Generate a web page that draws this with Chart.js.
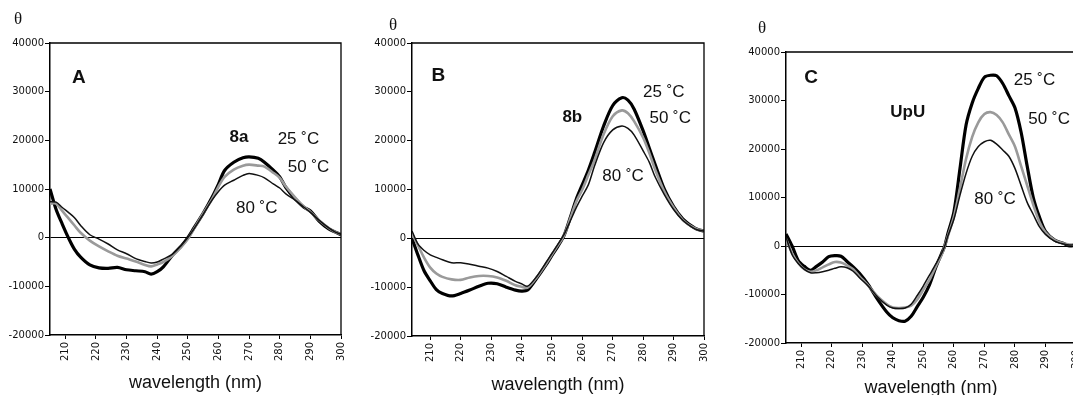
<!DOCTYPE html>
<html>
<head>
<meta charset="utf-8">
<script src="https://cdn.jsdelivr.net/npm/chart.js@4.4.0/dist/chart.umd.min.js"></script>
<style>
  html, body { margin: 0; padding: 0; background: #fff; overflow: hidden; }
  body { width: 1073px; height: 395px; position: relative; }
  canvas { position: absolute; top: 0; }
</style>
</head>
<body>
<canvas id="panelA" width="360" height="395" style="left:0px"></canvas>
<canvas id="panelB" width="360" height="395" style="left:362px"></canvas>
<canvas id="panelC" width="360" height="395" style="left:736px"></canvas>
<script>
// tick values shared by all three panels
var xTicks = [210, 220, 230, 240, 250, 260, 270, 280, 290, 300];
var yTicks = [-20000, -10000, 0, 10000, 20000, 30000, 40000];

// panel A (8a)
var wlA = [205, 207, 209, 211, 213, 215, 218, 221, 224, 227, 230, 233, 236, 238, 240, 242, 245, 248, 250, 252,
           255, 258, 260, 262, 265, 268, 270, 273, 275, 278, 280, 282, 285, 288, 290, 293, 296, 298, 300];
var a25 = [10000, 5800, 2800, 0, -2400, -4000, -5600, -6200, -6300, -6100, -6600, -6800, -7000, -7500, -7000, -6000, -3600, -1600, 0, 2000,
           5000, 8400, 11000, 13800, 15500, 16400, 16600, 16300, 15500, 13800, 12500, 10300, 8000, 6200, 5500, 3300, 1800, 1200, 600];
var a50 = [7000, 7000, 5500, 4000, 2500, 1000, -600, -1800, -2800, -3700, -4300, -4900, -5600, -5900, -5500, -5000, -3700, -1800, -300, 1800,
           5000, 8000, 10500, 12500, 14000, 14800, 15000, 14800, 14600, 13300, 12300, 10500, 8300, 6300, 5300, 3500, 2000, 1200, 700];
var a80 = [7400, 7300, 6200, 5200, 4100, 2500, 600, -300, -1300, -2500, -3300, -4300, -4900, -5200, -5000, -4400, -3400, -1500, 0, 1800,
           4800, 7800, 9500, 10800, 11800, 12800, 13200, 12800, 12300, 11000, 10200, 9000, 7700, 6200, 5200, 3500, 2000, 1200, 700];

// panel B (8b)
var wlB = [204, 206, 208, 210, 212, 214, 217, 220, 223, 226, 229, 232, 235, 238, 240, 242, 245, 248, 250, 252,
           254, 256, 258, 260, 262, 264, 267, 270, 273, 275, 277, 280, 282, 284, 287, 290, 293, 296, 298, 300];
var b25 = [0, -3500, -6700, -8700, -10500, -11300, -11800, -11300, -10600, -9800, -9200, -9300, -10000, -10600, -10800, -10600, -8200, -5500, -3500, -1600,
           600, 4200, 8000, 11000, 14000, 17500, 23000, 27200, 28800, 28300, 26500, 22000, 18500, 15000, 10000, 6500, 4000, 2500, 1800, 1500];
var b50 = [1000, -1500, -4000, -6000, -7200, -7900, -8400, -8500, -8000, -7700, -7700, -8000, -8700, -9600, -9900, -10100, -8000, -5300, -3300, -1400,
           600, 4000, 7500, 10000, 13000, 16000, 21300, 25000, 26200, 25600, 24000, 20600, 17500, 14000, 9500, 6300, 3800, 2400, 1800, 1500];
var b80 = [1500, -1200, -2500, -3400, -3900, -4400, -5000, -5000, -5300, -5700, -6100, -6800, -7800, -8800, -9300, -9800, -7800, -5000, -3100, -1200,
           800, 3500, 6300, 8700, 11000, 14800, 19600, 22200, 23000, 22500, 21200, 17900, 15600, 12500, 8900, 5900, 3700, 2300, 1700, 1500];

// panel C (UpU)
var wlC = [205, 207, 209, 211, 213, 215, 217, 219, 221, 223, 225, 227, 229, 232, 235, 238, 240, 242, 244, 246, 248, 250, 252, 254,
           256, 257, 258, 260, 262, 264, 266, 268, 270, 272, 274, 276, 278, 280, 282, 284, 286, 288, 290, 293, 296, 298, 300];
var c25 = [2500, 0, -3000, -4200, -5000, -4200, -3300, -2200, -2000, -2100, -3200, -4300, -5600, -8000, -11000, -13600, -14800, -15400, -15500, -14500, -12500, -10500, -8000, -4500,
           -1500, 0, 2500, 7000, 16000, 25000, 29500, 32500, 34800, 35200, 35100, 33500, 31000, 28500, 23500, 16500, 10000, 6000, 3000, 1200, 500, 0, 300];
var c50 = [1500, -1500, -3500, -4800, -5300, -5000, -4400, -3800, -3300, -3400, -4000, -4800, -6200, -8200, -10400, -12000, -12700, -12800, -12700, -12300, -11000, -9000, -7000, -4300,
           -1800, 0, 2000, 6000, 12000, 18000, 22500, 25500, 27200, 27600, 27000, 25500, 23000, 20500, 16500, 12500, 8500, 5000, 2800, 1200, 500, 300, 300];
var c80 = [1800, -1800, -3600, -4800, -5500, -5500, -5300, -5000, -4600, -4300, -4500, -5200, -6500, -8300, -10500, -12200, -12800, -12900, -12800, -12000, -10200, -8200, -6000, -3800,
           -1500, 0, 2000, 5500, 10500, 15000, 18500, 20500, 21500, 21800, 21000, 19800, 18500, 16000, 12500, 9000, 6500, 4000, 2400, 1000, 400, 200, 300];

// text labels placed at (wavelength, theta)
var notesA = [['A', 214.4, 32900], ['8a', 266.7, 20600], ['25 ˚C', 286.1, 20300], ['50 ˚C', 289.4, 14400], ['80 ˚C', 272.5, 6000]];
var notesB = [['B', 212.7, 33300], ['8b', 256.7, 24800], ['25 ˚C', 286.8, 30000], ['50 ˚C', 288.9, 24500], ['80 ˚C', 273.4, 12600]];
var notesC = [['C', 213.2, 34600], ['UpU', 244.9, 27500], ['25 ˚C', 286.4, 34200], ['50 ˚C', 291.2, 26100], ['80 ˚C', 273.5, 9700]];

var letterNotes = ['A', 'B', 'C'];
var boldNotes = ['8a', '8b', 'UpU'];

function pts(wl, vals) {
    return wl.map(function (w, i) { return { x: w, y: vals[i] }; });
}

var decor = {
    id: 'decor',
    afterDraw: function (chart, args, opts) {
        var ctx = chart.ctx, a = chart.chartArea, x = chart.scales.x, y = chart.scales.y;
        ctx.save();
        ctx.strokeStyle = '#000';
        ctx.lineWidth = 1.3;
        ctx.beginPath();
        ctx.moveTo(a.left, a.top);
        ctx.lineTo(a.right, a.top);
        ctx.lineTo(a.right, a.bottom);
        ctx.stroke();
        ctx.fillStyle = '#111';
        ctx.textAlign = 'center';
        ctx.textBaseline = 'middle';
        ctx.font = '17px "Liberation Serif"';
        ctx.fillText('θ', a.left + opts.thetaDx, a.top + opts.thetaDy);
        opts.notes.forEach(function (n) {
            if (letterNotes.indexOf(n[0]) >= 0) {
                ctx.font = 'bold 19px "Liberation Sans"';
            } else if (boldNotes.indexOf(n[0]) >= 0) {
                ctx.font = 'bold 17px "Liberation Sans"';
            } else {
                ctx.font = '17px "Liberation Sans"';
            }
            ctx.fillText(n[0], x.getPixelForValue(n[1]), y.getPixelForValue(n[2]));
        });
        ctx.restore();
    }
};

var tickFont = { family: 'DejaVu Sans', size: 10 };

function makePanel(id, wl, s25, s50, s80, notes, p) {
    var ctx = document.getElementById(id);
    if (!ctx || !window.Chart) {
        return;
    }
    new Chart(ctx, {
        type: 'line',
        data: {
            datasets: [
                { label: '80 °C', data: pts(wl, s80), borderColor: '#111', borderWidth: 1.5 },
                { label: '50 °C', data: pts(wl, s50), borderColor: '#9a9a9a', borderWidth: 2.6 },
                { label: '25 °C', data: pts(wl, s25), borderColor: '#000', borderWidth: 3.2 }
            ]
        },
        options: {
            responsive: false,
            animation: false,
            elements: { point: { radius: 0 }, line: { tension: 0.3, fill: false } },
            layout: { padding: { top: p.top, right: p.right, left: 0, bottom: 0 } },
            plugins: {
                legend: { display: false },
                tooltip: { enabled: false },
                decor: { notes: notes, thetaDx: p.thetaDx, thetaDy: p.thetaDy }
            },
            scales: {
                x: {
                    type: 'linear',
                    min: p.xMin,
                    max: 300,
                    afterBuildTicks: function (s) { s.ticks = xTicks.map(function (v) { return { value: v }; }); },
                    afterFit: function (s) { s.height = p.xHeight; s.paddingLeft = 0; s.paddingRight = 0; },
                    ticks: { minRotation: 90, maxRotation: 90, padding: 3, font: tickFont, color: '#111',
                             callback: function (v) { return String(v); } },
                    grid: { drawOnChartArea: false, tickLength: 4, tickColor: '#000', color: '#000' },
                    border: { display: true, color: '#000', width: 1.5 },
                    title: { display: true, text: 'wavelength (nm)', color: '#111',
                             font: { family: 'Liberation Sans', size: 18, lineHeight: 1 },
                             padding: { top: 0, bottom: p.titlePad } }
                },
                y: {
                    min: -20000,
                    max: 40000,
                    afterBuildTicks: function (s) { s.ticks = yTicks.map(function (v) { return { value: v }; }); },
                    afterFit: function (s) { s.width = 50; s.paddingTop = 0; s.paddingBottom = 0; },
                    ticks: { padding: 1, font: tickFont, color: '#111',
                             callback: function (v) { return String(v); } },
                    grid: {
                        color: function (c) { return c.tick && c.tick.value === 0 ? '#000' : 'rgba(0,0,0,0)'; },
                        lineWidth: 1,
                        tickColor: '#000',
                        tickLength: 5
                    },
                    border: { display: true, color: '#000', width: 1.5 }
                }
            }
        },
        plugins: [decor]
    });
}

makePanel('panelA', wlA, a25, a50, a80, notesA,
    { top: 43, right: 19, xMin: 205, xHeight: 60, titlePad: 3, thetaDx: -32, thetaDy: -23 });
makePanel('panelB', wlB, b25, b50, b80, notesB,
    { top: 43, right: 18, xMin: 204, xHeight: 59, titlePad: 1, thetaDx: -19, thetaDy: -17 });
makePanel('panelC', wlC, c25, c50, c80, notesC,
    { top: 52, right: 20, xMin: 205, xHeight: 52, titlePad: -2, thetaDx: -24, thetaDy: -23 });
</script>
</body>
</html>
